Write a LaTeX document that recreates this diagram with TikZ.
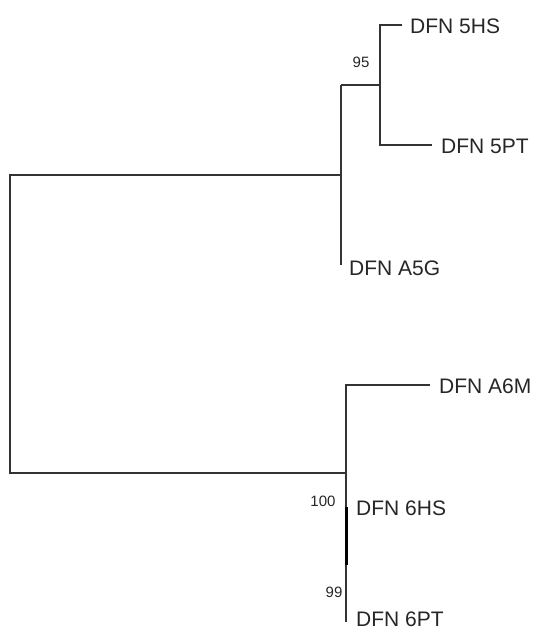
\documentclass[tikz,border=0pt]{standalone}
\usepackage{fontspec}
\setmainfont{Liberation Sans}
\begin{document}
\begin{tikzpicture}[x=1pt,y=-1pt,
  branch/.style={draw=black!80,line width=1.4pt},
  thickbranch/.style={draw=black,line width=3pt},
  leaf/.style={anchor=west,inner sep=0pt,font=\fontsize{21}{23}\selectfont,text=black!85},
  boot/.style={inner sep=0pt,font=\fontsize{15}{17}\selectfont,text=black!85}]
\useasboundingbox (0,0) rectangle (534,634);
% internal vertices
\coordinate (rtop) at (10,175);
\coordinate (rbot) at (10,473);
\coordinate (c1top) at (341,85);
\coordinate (c1mid) at (341,175);
\coordinate (c1bot) at (341,265);
\coordinate (c95mid) at (380,85);
\coordinate (c95top) at (380,25);
\coordinate (c95bot) at (380,145);
\coordinate (e5HS) at (402,25);
\coordinate (e5PT) at (432,145);
\coordinate (c2top) at (346,385);
\coordinate (c2mid) at (346,473);
\coordinate (c2bot) at (346,622);
\coordinate (eA6M) at (430,385);
\coordinate (thA) at (346,507);
\coordinate (thB) at (346,565);
% leaves
\node[leaf] (n5HS) at (410,26) {DFN 5HS};
\node[leaf] (n5PT) at (441,146) {DFN 5PT};
\node[leaf] (nA5G) at (349,268) {DFN A5G};
\node[leaf] (nA6M) at (439,386) {DFN A6M};
\node[leaf] (n6HS) at (356,508) {DFN 6HS};
\node[leaf] (n6PT) at (356,619) {DFN 6PT};
% bootstrap values
\node[boot] (b95) at (361,62) {95};
\node[boot] (b100) at (323,501) {100};
\node[boot] (b99) at (334,592) {99};
% branches
\draw[branch] (c1mid) -- (rtop) -- (rbot) -- (c2mid);
\draw[branch] (c1top) -- (c1bot);
\draw[branch] (c1top) -- (c95mid);
\draw[branch] (e5HS) -- (c95top) -- (c95bot) -- (e5PT);
\draw[branch] (eA6M) -- (c2top) -- (c2bot);
\draw[thickbranch] (thA) -- (thB);
\end{tikzpicture}
\end{document}
